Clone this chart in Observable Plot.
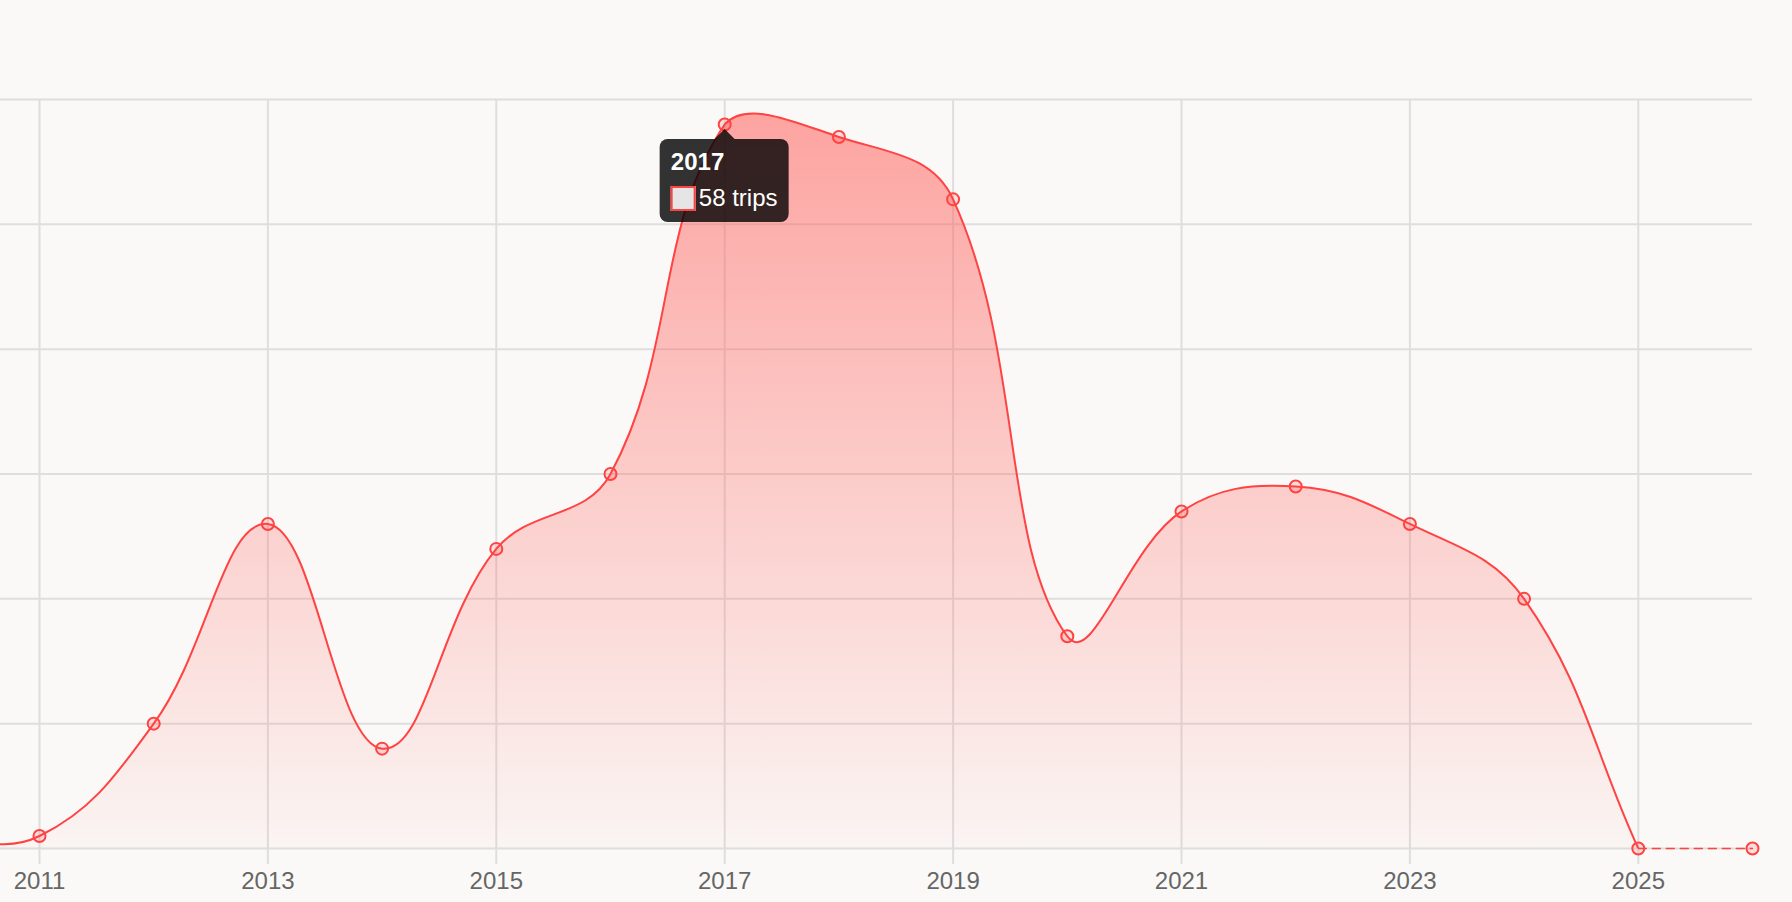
<!DOCTYPE html>
<html>
<head>
<meta charset="utf-8">
<script src="https://cdn.jsdelivr.net/npm/d3@7"></script>
<script src="https://cdn.jsdelivr.net/npm/@observablehq/plot@0.6"></script>
<style>
  html, body { margin: 0; padding: 0; background: #faf9f7; overflow: hidden; }
  #chart { position: relative; width: 1792px; height: 902px; }
  .tip {
    position: absolute; transform: translateX(-50%);
    background: rgba(0,0,0,0.8); color: #fff; border-radius: 8px;
    padding: 12px 11px 11px 11px;
    font-family: "Liberation Sans", Arial, Helvetica, sans-serif;
    white-space: nowrap;
  }
  .tip::before {
    content: ""; position: absolute; left: 50%; top: -10px; margin-left: -10px;
    border-left: 10px solid transparent; border-right: 10px solid transparent;
    border-bottom: 10px solid rgba(0,0,0,0.8);
  }
  .tip .title { font-weight: bold; font-size: 24px; line-height: 22px; margin-bottom: 13px; }
  .tip .row { display: flex; align-items: center; font-size: 24px; line-height: 22px; }
  .tip .swatch { width: 25px; height: 25px; box-sizing: border-box; background: #e5e5e5; border: 2px solid #ff4343; margin-right: 3px; }
</style>
</head>
<body>
<div id="chart"></div>
<script>
// ---- data ----
const years = [2010, 2011, 2012, 2013, 2014, 2015, 2016, 2017, 2018, 2019, 2020, 2021, 2022, 2023, 2024, 2025, 2026];
const trips = [1, 1, 10, 26, 8, 24, 30, 58, 57, 52, 17, 27, 29, 26, 20, 0, 0];
const tickYears = [2011, 2013, 2015, 2017, 2019, 2021, 2023, 2025];
const gridValues = [0, 10, 20, 30, 40, 50, 60];
const dashedFrom = 2025;
const tooltipYear = 2017;
const tooltipUnit = "trips";

const data = years.map((year, i) => ({year, trips: trips[i]}));
const solid = data.filter(d => d.year <= dashedFrom);
const dashed = data.filter(d => d.year >= dashedFrom);

// ---- layout ----
const W = 1792, H = 902;
const mTop = 99, mBottom = 54, mLeft = 0, mRight = 40;
const bounds = {left: mLeft, right: W - mRight, top: mTop, bottom: H - mBottom};

const RED = "#ff4343";

// Chart.js-like spline (tension, bezier control points capped to chart area)
function splineCurve(t, area) {
  return function(context) {
    let pts = [], line;
    const inArea = p => p.x > area.left - 0.5 && p.x < area.right + 0.5 && p.y > area.top - 0.5 && p.y < area.bottom + 0.5;
    const clamp = (v, a, b) => Math.max(a, Math.min(b, v));
    return {
      areaStart() { line = 0; },
      areaEnd() { line = NaN; },
      lineStart() { pts = []; },
      point(x, y) { pts.push({x: +x, y: +y}); },
      lineEnd() {
        const n = pts.length;
        if (n) {
          const cps = pts.map((p, i) => {
            const prev = pts[i - 1] || p, next = pts[i + 1] || p;
            const d01 = Math.hypot(p.x - prev.x, p.y - prev.y);
            const d12 = Math.hypot(next.x - p.x, next.y - p.y);
            let s01 = d01 / (d01 + d12), s12 = d12 / (d01 + d12);
            if (isNaN(s01)) s01 = 0;
            if (isNaN(s12)) s12 = 0;
            const fa = t * s01, fb = t * s12;
            return {
              c1x: p.x - fa * (next.x - prev.x), c1y: p.y - fa * (next.y - prev.y),
              c2x: p.x + fb * (next.x - prev.x), c2y: p.y + fb * (next.y - prev.y)
            };
          });
          for (let i = 0; i < n; i++) {
            if (!inArea(pts[i])) continue;
            const c = cps[i];
            if (i > 0 && inArea(pts[i - 1])) {
              c.c1x = clamp(c.c1x, area.left, area.right);
              c.c1y = clamp(c.c1y, area.top, area.bottom);
            }
            if (i < n - 1 && inArea(pts[i + 1])) {
              c.c2x = clamp(c.c2x, area.left, area.right);
              c.c2y = clamp(c.c2y, area.top, area.bottom);
            }
          }
          if (line) context.lineTo(pts[0].x, pts[0].y);
          else context.moveTo(pts[0].x, pts[0].y);
          for (let i = 1; i < n; i++) {
            context.bezierCurveTo(cps[i - 1].c2x, cps[i - 1].c2y, cps[i].c1x, cps[i].c1y, pts[i].x, pts[i].y);
          }
        }
        if (line || (line !== 0 && n === 1)) context.closePath();
        line = 1 - line;
      }
    };
  };
}

const svgNS = "http://www.w3.org/2000/svg";
function gradientDefs() {
  const defs = document.createElementNS(svgNS, "defs");
  const g = document.createElementNS(svgNS, "linearGradient");
  g.setAttribute("id", "areaGrad");
  g.setAttribute("gradientUnits", "userSpaceOnUse");
  g.setAttribute("x1", 0); g.setAttribute("x2", 0);
  g.setAttribute("y1", bounds.top); g.setAttribute("y2", bounds.bottom);
  [[0, 0.58], [1, 0.03]].forEach(([o, a]) => {
    const s = document.createElementNS(svgNS, "stop");
    s.setAttribute("offset", o);
    s.setAttribute("stop-color", "rgb(255,99,95)");
    s.setAttribute("stop-opacity", a);
    g.appendChild(s);
  });
  defs.appendChild(g);
  return defs;
}

const plot = Plot.plot({
  width: W,
  height: H,
  marginTop: mTop,
  marginBottom: mBottom,
  marginLeft: mLeft,
  marginRight: mRight,
  style: {background: "#faf9f7", fontFamily: "'Liberation Sans', Arial, Helvetica, sans-serif"},
  x: {domain: [2011, 2026], range: [39, W - mRight], axis: null, label: null},
  y: {domain: [0, 60], axis: null, label: null},
  marks: [
    gradientDefs,
    Plot.gridY(gridValues, {stroke: "#dedede", strokeOpacity: 1, strokeWidth: 2}),
    Plot.gridX(tickYears, {stroke: "#dedede", strokeOpacity: 1, strokeWidth: 2}),
    Plot.axisX(tickYears, {
      label: null,
      tickSize: 16, tickPadding: 7, stroke: "#dedede", strokeWidth: 2,
      fill: "#666", fontSize: 24, tickFormat: d => String(d)
    }),
    Plot.areaY(solid, {x: "year", y: "trips", curve: splineCurve(0.4, bounds), fill: "url(#areaGrad)", clip: "frame"}),
    Plot.lineY(solid, {x: "year", y: "trips", curve: splineCurve(0.4, bounds), stroke: RED, strokeWidth: 2, clip: "frame"}),
    Plot.lineY(dashed, {x: "year", y: "trips", stroke: RED, strokeWidth: 1.5, strokeDasharray: "8,6"}),
    Plot.dot(data.filter(d => d.year >= 2011), {x: "year", y: "trips", r: 6, stroke: RED, strokeWidth: 2, fill: "rgba(255,67,67,0.15)"})
  ]
});

const chart = document.getElementById("chart");
chart.appendChild(plot);

// tooltip
const tipDatum = data.find(d => d.year === tooltipYear);
const px = plot.scale("x").apply(tipDatum.year);
const py = plot.scale("y").apply(tipDatum.trips);
const tip = document.createElement("div");
tip.className = "tip";
tip.style.left = px + "px";
tip.style.top = (py + 15) + "px";
const title = document.createElement("div");
title.className = "title";
title.textContent = String(tipDatum.year);
const row = document.createElement("div");
row.className = "row";
const sw = document.createElement("span");
sw.className = "swatch";
const label = document.createElement("span");
label.textContent = `${tipDatum.trips} ${tooltipUnit}`;
row.appendChild(sw); row.appendChild(label);
tip.appendChild(title); tip.appendChild(row);
chart.appendChild(tip);
</script>
</body>
</html>
